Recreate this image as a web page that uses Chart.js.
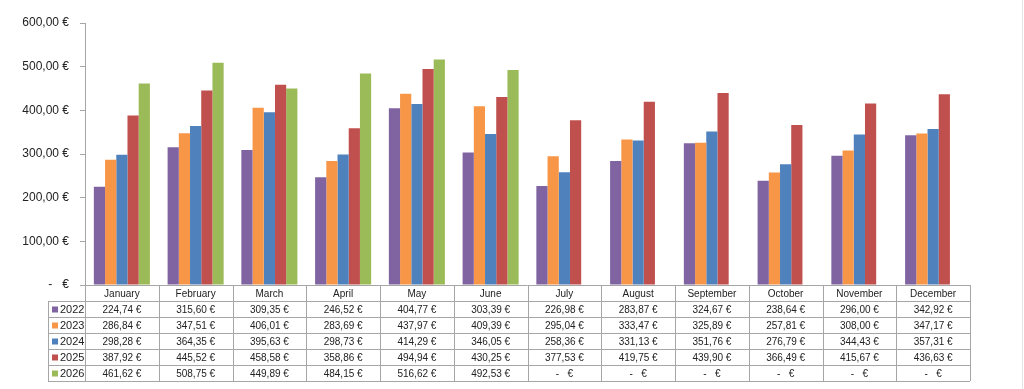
<!DOCTYPE html>
<html>
<head>
<meta charset="utf-8">
<script src="https://cdn.jsdelivr.net/npm/chart.js@4.4.1/dist/chart.umd.min.js"></script>
<style>
  html, body { margin: 0; padding: 0; background: #fff; }
  #wrap { position: relative; width: 1024px; height: 389px; }
  #wrap::after { content: ''; position: absolute; top: 0; bottom: 0; right: 1px; border-right: 1px solid #e4e4e4; }
</style>
</head>
<body>
<div id="wrap"><canvas id="chart"></canvas></div>
<script>
// ── Daten ────────────────────────────────────────────────────────────────────

const months = ['January', 'February', 'March', 'April', 'May', 'June',
  'July', 'August', 'September', 'October', 'November', 'December'];

const years = ['2022', '2023', '2024', '2025', '2026'];

const values2022 = [224.74, 315.60, 309.35, 246.52, 404.77, 303.39, 226.98, 283.87, 324.67, 238.64, 296.00, 342.92];
const values2023 = [286.84, 347.51, 406.01, 283.69, 437.97, 409.39, 295.04, 333.47, 325.89, 257.81, 308.00, 347.17];
const values2024 = [298.28, 364.35, 395.63, 298.73, 414.29, 346.05, 258.36, 331.13, 351.76, 276.79, 344.43, 357.31];
const values2025 = [387.92, 445.52, 458.58, 358.86, 494.94, 430.25, 377.53, 419.75, 439.90, 366.49, 415.67, 436.63];
const values2026 = [461.62, 508.75, 449.89, 484.15, 516.62, 492.53, null, null, null, null, null, null];

const yTicks = [0, 100, 200, 300, 400, 500, 600];

const colors = ['#8064a2', '#f79646', '#4f81bd', '#c0504d', '#9bbb59'];

// ── Helfer ───────────────────────────────────────────────────────────────────

function euro(v) {
  if (v === null || v === undefined || v === 0) return '-   €';
  return v.toFixed(2).replace('.', ',') + ' €';
}

const FONT = '"Liberation Sans", Arial, sans-serif';
const LINE = '#a6a6a6';

// Datentabelle unter dem Diagramm (wie Excel)
const dataTable = {
  id: 'dataTable',
  afterDraw(chart) {
    const ctx = chart.ctx;
    const x = chart.scales.x;
    const area = chart.chartArea;
    const top = area.bottom;
    const rowH = 16;
    const legendLeft = 48;
    const colW = x.getPixelForValue(1) - x.getPixelForValue(0);
    const colLeft = i => x.getPixelForValue(i) - colW / 2;
    const right = colLeft(months.length);
    const bottom = top + rowH * (years.length + 1);

    ctx.save();
    ctx.strokeStyle = LINE;
    ctx.lineWidth = 1;
    ctx.beginPath();
    // horizontale Linien
    ctx.moveTo(area.left, top + 0.5);
    ctx.lineTo(right, top + 0.5);
    for (let r = 1; r <= years.length + 1; r++) {
      const y = Math.round(top + r * rowH) + 0.5;
      ctx.moveTo(legendLeft, y);
      ctx.lineTo(right, y);
    }
    // vertikale Linien
    ctx.moveTo(legendLeft + 0.5, top + rowH);
    ctx.lineTo(legendLeft + 0.5, bottom);
    for (let i = 0; i <= months.length; i++) {
      const xx = Math.round(colLeft(i)) + 0.5;
      ctx.moveTo(xx, top);
      ctx.lineTo(xx, bottom);
    }
    ctx.stroke();

    ctx.fillStyle = '#222';
    ctx.font = '10px ' + FONT;
    ctx.textAlign = 'center';
    ctx.textBaseline = 'middle';
    months.forEach((m, i) => ctx.fillText(m, x.getPixelForValue(i), top + rowH / 2 + 1));

    chart.data.datasets.forEach((ds, r) => {
      const cy = top + rowH * (r + 1) + rowH / 2 + 1;
      ctx.fillStyle = ds.backgroundColor;
      ctx.fillRect(legendLeft + 4, cy - 3.5, 6, 6);
      ctx.fillStyle = '#222';
      ctx.textAlign = 'left';
      ctx.font = '11px ' + FONT;
      ctx.fillText(ds.label, legendLeft + 12, cy);
      ctx.textAlign = 'center';
      ctx.font = '10px ' + FONT;
      ds.data.forEach((v, i) => ctx.fillText(euro(v), x.getPixelForValue(i), cy));
    });
    ctx.restore();
  }
};

// ── Chart ────────────────────────────────────────────────────────────────────

const series = [values2022, values2023, values2024, values2025, values2026];

new Chart(document.getElementById('chart'), {
  type: 'bar',
  data: {
    labels: months,
    datasets: series.map((data, i) => ({
      label: years[i],
      data,
      backgroundColor: colors[i],
      borderWidth: 0,
      categoryPercentage: 0.76,
      barPercentage: 1.0
    }))
  },
  options: {
    responsive: true,
    maintainAspectRatio: false,
    animation: false,
    layout: { padding: { top: 23, right: 54, bottom: 104, left: 0 } },
    plugins: {
      legend: { display: false },
      tooltip: { enabled: false }
    },
    scales: {
      x: { display: false },
      y: {
        min: 0,
        max: 600,
        afterFit: scale => { scale.width = 85; },
        afterBuildTicks: scale => { scale.ticks = yTicks.map(v => ({ value: v })); },
        border: { color: LINE, width: 1 },
        grid: { drawOnChartArea: false, drawTicks: true, tickLength: 5, color: LINE },
        ticks: {
          padding: 11,
          color: '#222',
          font: { family: FONT, size: 12 },
          callback: v => euro(v)
        }
      }
    }
  },
  plugins: [dataTable]
});
</script>
</body>
</html>
